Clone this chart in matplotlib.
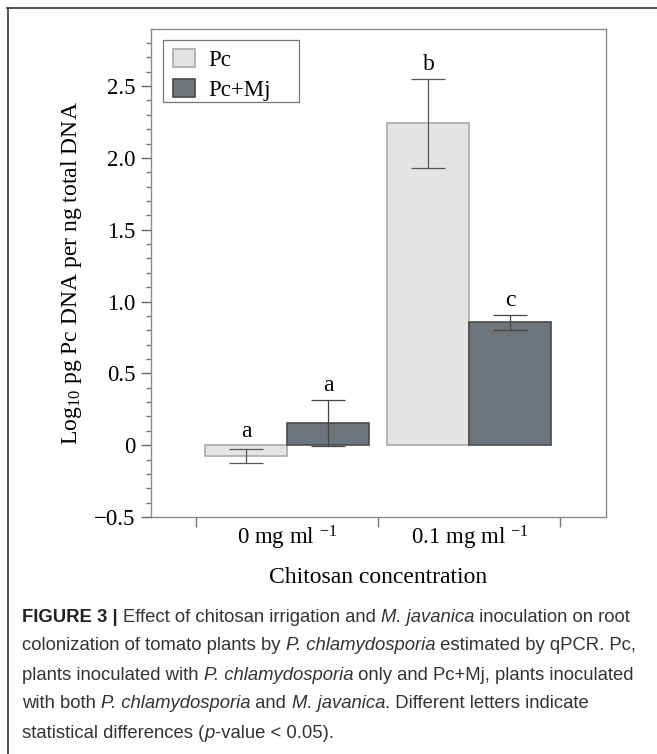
import numpy as np
import matplotlib
matplotlib.use("Agg")
import matplotlib.pyplot as plt
from matplotlib.lines import Line2D
from matplotlib.patches import FancyBboxPatch, Rectangle
from matplotlib.legend_handler import HandlerPatch
from matplotlib import font_manager

# Data
groups = ["0 mg ml $^{-1}$", "0.1 mg ml $^{-1}$"]
series = ["Pc", "Pc+Mj"]
pc_mean = [-0.075, 2.24]
pc_err = [0.052, 0.31]
mj_mean = [0.155, 0.856]
mj_err = [0.16, 0.052]
pc_letters = ["a", "b"]
mj_letters = ["a", "c"]

caption_lines = [
    [("FIGURE 3 | ", "bold"), ("Effect of chitosan irrigation and ", "normal"),
     ("M. javanica", "italic"), (" inoculation on root", "normal")],
    [("colonization of tomato plants by ", "normal"), ("P. chlamydosporia", "italic"),
     (" estimated by qPCR. Pc,", "normal")],
    [("plants inoculated with ", "normal"), ("P. chlamydosporia", "italic"),
     (" only and Pc+Mj, plants inoculated", "normal")],
    [("with both ", "normal"), ("P. chlamydosporia", "italic"), (" and ", "normal"),
     ("M. javanica", "italic"), (". Different letters indicate", "normal")],
    [("statistical differences (", "normal"), ("p", "italic"),
     ("-value < 0.05).", "normal")],
]

serif = "Liberation Serif"
names = {f.name for f in font_manager.fontManager.ttflist}
cap_font = "Liberation Sans Narrow" if "Liberation Sans Narrow" in names else "Liberation Sans"

plt.rcParams["font.family"] = serif
plt.rcParams["mathtext.fontset"] = "custom"
plt.rcParams["mathtext.rm"] = serif
plt.rcParams["mathtext.it"] = serif + ":italic"

light = "#e4e4e4"
dark = "#6e757a"


class RoundHandler(HandlerPatch):
    def create_artists(self, legend, orig_handle, xdescent, ydescent,
                       width, height, fontsize, trans):
        p = FancyBboxPatch((-xdescent + 1, -ydescent), width - 2, height,
                           boxstyle="round,pad=0,rounding_size=4",
                           facecolor=orig_handle.get_facecolor(),
                           edgecolor=orig_handle.get_edgecolor(), lw=1.0)
        p.set_transform(trans)
        return [p]


fig = plt.figure(figsize=(6.57, 7.54), dpi=100)
ax = fig.add_axes([0.2294, 0.3143, 0.693, 0.6477])

x = np.arange(len(groups))
w = 0.45
b1 = ax.bar(x - w / 2, pc_mean, w, color=light, edgecolor="#ababab", lw=1.2, label=series[0])
b2 = ax.bar(x + w / 2, mj_mean, w, color=dark, edgecolor="#4a4a4a", lw=1.2, label=series[1])
ax.errorbar(x - w / 2, pc_mean, yerr=pc_err, fmt="none", ecolor="#555555",
            elinewidth=0.9, capsize=12, capthick=0.9)
ax.errorbar(x + w / 2, mj_mean, yerr=mj_err, fmt="none", ecolor="#444444",
            elinewidth=0.9, capsize=12, capthick=0.9)

for xs, m, e, lets in [(x - w / 2, pc_mean, pc_err, pc_letters),
                       (x + w / 2, mj_mean, mj_err, mj_letters)]:
    for xi, mi, ei, t in zip(xs, m, e, lets):
        top = max(mi + ei, 0.0)
        ax.text(xi, top + 0.06, t, ha="center", va="baseline", fontsize=17)

ax.set_xlim(-0.75, 1.75)
ax.set_ylim(-0.5, 2.9)
ax.set_yticks(np.arange(-0.5, 2.51, 0.5))
ax.set_yticks(np.arange(-0.5, 2.9, 0.1), minor=True)
ax.set_yticklabels(["0" if abs(v) < 1e-9 else f"{v:.1f}".replace("-", "\u2212")
                    for v in np.arange(-0.5, 2.51, 0.5)])
ax.set_xticks([-0.5, 0.5, 1.5])
ax.set_xticklabels([])
ax.set_xticks(x, minor=True)
ax.set_xticklabels(groups, minor=True)
ax.tick_params(axis="x", which="minor", length=0, pad=5, labelsize=16.5)
ax.tick_params(axis="x", which="major", length=7, width=1, color="#777777", direction="out")
ax.tick_params(axis="y", which="major", length=7, width=1, color="#666666",
               direction="out", pad=4, labelsize=16.5)
ax.tick_params(axis="y", which="minor", length=3.7, width=1, color="#777777", direction="out")
for s in ax.spines.values():
    s.set_color("#8a8a8a")
    s.set_linewidth(1.0)

ax.set_ylabel("Log$_{10}$ pg Pc DNA per ng total DNA", fontsize=17)
ax.yaxis.set_label_coords(-0.146, 0.5)
ax.set_xlabel("Chitosan concentration", fontsize=17)
ax.xaxis.set_label_coords(0.5, -0.103)

# legend: entries from the bars, frame drawn as a plain box
leg = ax.legend(handler_map={type(b1.patches[0]): RoundHandler()},
                loc="upper left", bbox_to_anchor=(0.05, 0.958), borderaxespad=0,
                fontsize=16.5, frameon=False,
                handlelength=0.95, handleheight=0.85, handletextpad=0.55,
                labelspacing=0.32, borderpad=0.0)
ax.add_patch(Rectangle((0.0266, 0.849), 0.299, 0.128, transform=ax.transAxes,
                       facecolor="white", edgecolor="#777777", lw=0.9, zorder=4))
leg.set_zorder(5)

# outer border (left and top)
fig.add_artist(Line2D([7.5 / 657, 7.5 / 657], [0, 1 - 8 / 754], transform=fig.transFigure,
                      color="#444444", lw=1.3))
fig.add_artist(Line2D([7 / 657, 1], [1 - 8 / 754, 1 - 8 / 754], transform=fig.transFigure,
                      color="#444444", lw=1.3))

# caption, drawn run by run
fig.canvas.draw()
r = fig.canvas.get_renderer()
y0 = 617
for i, line in enumerate(caption_lines):
    xp = 22
    yp = 1 - (y0 + i * 29) / 754
    for txt, style in line:
        t = fig.text(xp / 657, yp, txt, family=cap_font, fontsize=13.3,
                     color="#333333" if style != "bold" else "#222222",
                     fontweight="bold" if style == "bold" else "normal",
                     fontstyle="italic" if style == "italic" else "normal",
                     va="center", ha="left")
        bb = t.get_window_extent(renderer=r)
        xp += bb.width

fig.savefig("out.png", dpi=100)
